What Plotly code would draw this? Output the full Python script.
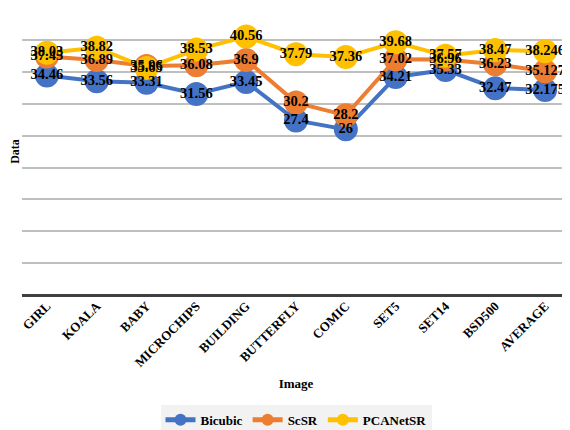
import plotly.graph_objects as go

categories = ["GIRL", "KOALA", "BABY", "MICROCHIPS", "BUILDING", "BUTTERFLY",
              "COMIC", "SET5", "SET14", "BSD500", "AVERAGE"]
bicubic = [34.46, 33.56, 33.31, 31.56, 33.45, 27.4, 26, 34.21, 35.33, 32.47, 32.175]
scsr = [37.45, 36.89, 35.96, 36.08, 36.9, 30.2, 28.2, 37.02, 36.96, 36.23, 35.127]
pcanetsr = [38.03, 38.82, 35.65, 38.53, 40.56, 37.79, 37.36, 39.68, 37.57, 38.47, 38.246]

series = [("Bicubic", bicubic, "#4472C4"),
          ("ScSR", scsr, "#ED7D31"),
          ("PCANetSR", pcanetsr, "#FFC000")]

FONT = "Liberation Serif, Times New Roman, serif"
fig = go.Figure()
for name, vals, col in series:
    fig.add_trace(go.Scatter(
        x=categories, y=vals, name=name, mode="lines+markers",
        line=dict(color=col, width=4),
        marker=dict(color=col, size=24),
    ))
for name, vals, col in series:
    fig.add_trace(go.Scatter(
        x=categories, y=vals, mode="text", showlegend=False, cliponaxis=False,
        text=[str(v) for v in vals], textposition="middle center",
        textfont=dict(family=FONT, size=14.5, color="black", weight="bold"),
        hoverinfo="skip",
    ))

fig.update_layout(
    width=562, height=422,
    margin=dict(l=14, r=0, t=0, b=135, autoexpand=False),
    plot_bgcolor="white", paper_bgcolor="white",
    font=dict(family=FONT, color="black"),
    showlegend=True,
    legend=dict(orientation="h", x=0.5, xanchor="center",
                yref="container", y=0.024, yanchor="middle",
                bgcolor="#f2f2f2", font=dict(family=FONT, size=13, weight="bold"),
                itemsizing="constant", itemwidth=30, tracegroupgap=0),
    xaxis=dict(
        range=[-0.5, len(categories) - 0.5],
        tickangle=-45, tickfont=dict(family=FONT, size=13, weight="bold"),
        showgrid=False, showline=False, ticks="",
        title=dict(text="Image", font=dict(family=FONT, size=13, weight="bold"), standoff=9),
    ),
    yaxis=dict(
        range=[0, 45.05], tickvals=[5, 10, 15, 20, 25, 30, 35, 40, 45],
        showticklabels=False, ticks="",
        showgrid=True, gridcolor="#bfbfbf", gridwidth=1.5,
        zeroline=True, zerolinecolor="#404040", zerolinewidth=2.5,
        title=dict(text="Data", font=dict(family=FONT, size=12, weight="bold"), standoff=0),
    ),
)
fig.write_html("out.html")
